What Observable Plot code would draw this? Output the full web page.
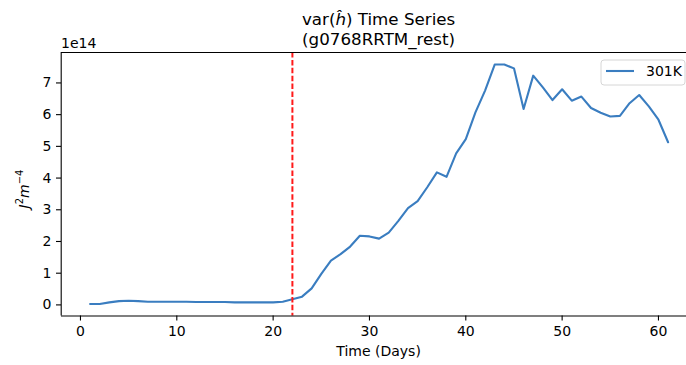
<!DOCTYPE html>
<html><head><meta charset="utf-8">
<script src="https://cdn.jsdelivr.net/npm/d3@7"></script>
<script src="https://cdn.jsdelivr.net/npm/@observablehq/plot@0.6"></script>
<style>html,body{margin:0;padding:0;background:#fff;overflow:hidden;}#chart svg{display:block;}</style>
</head><body><div id="chart"></div>
<script>
const days = [1,2,3,4,5,6,7,8,9,10,11,12,13,14,15,16,17,18,19,20,21,22,23,24,25,26,27,28,29,30,31,32,33,34,35,36,37,38,39,40,41,42,43,44,45,46,47,48,49,50,51,52,53,54,55,56,57,58,59,60,61];
const variance = [0.03,0.03,0.08,0.12,0.13,0.12,0.10,0.10,0.10,0.10,0.10,0.09,0.09,0.09,0.09,0.08,0.08,0.08,0.08,0.08,0.10,0.18,0.26,0.52,0.98,1.40,1.60,1.84,2.18,2.16,2.09,2.28,2.65,3.05,3.27,3.71,4.18,4.04,4.78,5.23,6.07,6.76,7.58,7.58,7.46,6.18,7.23,6.86,6.46,6.80,6.44,6.57,6.21,6.06,5.94,5.96,6.36,6.62,6.26,5.84,5.13];
const xTicks = [0,10,20,30,40,50,60];
const yTicks = [0,1,2,3,4,5,6,7];
const seriesName = "301K";
const eventDay = [22];
const titleSecond = "(g0768RRTM_rest)";
const xLabel = "Time (Days)";
const exponentLabel = "1e14";

const data = days.map((d, i) => ({day: d, v: variance[i]}));
const W = 686, H = 365, mL = 61, mT = 52, mB = 49.5;
const xDomain = [-2, 64], yDomain = [-0.35, 7.96];
const lineColor = "#3a7dc0";
const font = "DejaVu Sans";

const chart = Plot.plot({
  width: W, height: H,
  marginLeft: mL, marginTop: mT, marginBottom: mB, marginRight: 0,
  x: {domain: xDomain, range: [60.7, 696.5]},
  y: {domain: yDomain, range: [H - mB, mT]},
  style: {fontFamily: font, fontSize: "14px", color: "#000", background: "#fff", overflow: "hidden"},
  marks: [
    Plot.line(data, {x: "day", y: "v", stroke: lineColor, strokeWidth: 2.1}),
    Plot.ruleX(eventDay, {stroke: "#ff1a1a", strokeWidth: 2, strokeDasharray: "5.5,2.4"}),
    Plot.ruleX([xDomain[0]], {stroke: "#000", strokeWidth: 1.1}),
    Plot.ruleY([yDomain[0]], {stroke: "#000", strokeWidth: 1.1}),
    Plot.ruleY([yDomain[1]], {stroke: "#000", strokeWidth: 1.1}),
    Plot.axisX({ticks: xTicks, tickSize: 5, tickPadding: 5, label: null, strokeWidth: 1.1, tickFormat: d => String(d)}),
    Plot.axisY({ticks: yTicks, tickSize: 5, tickPadding: 5, label: null, strokeWidth: 1.1, tickFormat: d => String(d)})
  ]
});
document.getElementById("chart").appendChild(chart);

const svg = d3.select(chart);
const cx = (60.7 + 696.5) / 2;
// title
const t1 = svg.append("text").attr("x", cx).attr("y", 24.5).attr("text-anchor", "middle")
  .style("font-size", "16.7px").style("font-family", font);
t1.append("tspan").text("var(");
t1.append("tspan").style("font-style", "italic").text("ĥ");
t1.append("tspan").text(") Time Series");
svg.append("text").attr("x", cx).attr("y", 44.5).attr("text-anchor", "middle")
  .style("font-size", "16.7px").style("font-family", font).text(titleSecond);
// offset text
svg.append("text").attr("x", 61).attr("y", 48).attr("text-anchor", "start")
  .style("font-size", "14px").style("font-family", font).text(exponentLabel);
// x label
svg.append("text").attr("x", cx).attr("y", 356).attr("text-anchor", "middle")
  .style("font-size", "14px").style("font-family", font).text(xLabel);
// y label
const yl = svg.append("text").attr("transform", "translate(29,189) rotate(-90)").attr("text-anchor", "middle")
  .style("font-size", "14px").style("font-family", font);
yl.append("tspan").style("font-style", "italic").text("J");
yl.append("tspan").attr("font-size", "10px").attr("dy", -6).text("2");
yl.append("tspan").style("font-style", "italic").attr("dy", 6).text("m");
yl.append("tspan").attr("font-size", "10px").attr("dy", -6).text("−4");
// legend
const lg = svg.append("g");
lg.append("rect").attr("x", 601).attr("y", 60).attr("width", 84).attr("height", 25).attr("rx", 3)
  .attr("fill", "#fff").attr("stroke", "#d6d6d6").attr("stroke-width", 1);
lg.append("line").attr("x1", 606).attr("x2", 634).attr("y1", 71).attr("y2", 71)
  .attr("stroke", lineColor).attr("stroke-width", 2.1);
lg.append("text").attr("x", 646).attr("y", 76).attr("text-anchor", "start")
  .style("font-size", "14px").style("font-family", font).text(seriesName);
</script>
</body></html>
